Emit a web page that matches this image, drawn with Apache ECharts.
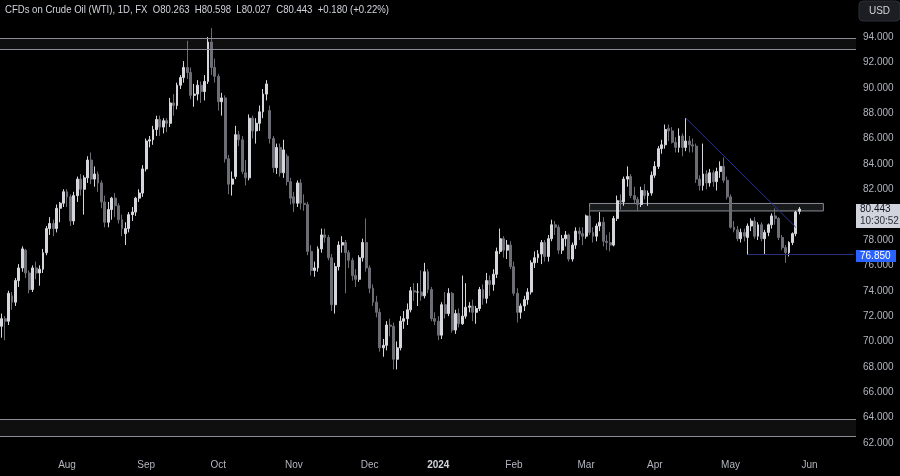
<!DOCTYPE html>
<html>
<head>
<meta charset="utf-8">
<title>CFDs on Crude Oil (WTI), 1D</title>
<script src="https://cdn.jsdelivr.net/npm/echarts/dist/echarts.min.js"></script>
<style>
  html, body { margin: 0; padding: 0; background: #000; }
  #chart { width: 900px; height: 476px; }
</style>
</head>
<body>
<div id="chart"></div>
<script>
// daily candles, one array per month: [open, high, low, close]
const jul23 = [
  [71.2, 72.2, 70.3, 71.8], [71.8, 72.0, 70.1, 71.6], [71.6, 74.0, 71.3, 73.8], [73.6, 73.9, 72.5, 73.1],
  [73.1, 75.0, 72.8, 74.8], [74.8, 76.1, 74.3, 75.8], [75.8, 77.5, 75.5, 77.3], [77.2, 77.3, 75.0, 75.4],
  [75.4, 75.6, 73.8, 74.1], [74.1, 76.0, 73.9, 75.8], [75.8, 76.3, 74.9, 75.4], [75.4, 76.0, 74.4, 75.7],
  [75.7, 77.3, 75.4, 77.0], [77.0, 79.1, 76.8, 78.9], [78.9, 79.8, 78.4, 79.3], [79.3, 79.6, 78.3, 78.9],
  [78.9, 80.8, 78.6, 80.5], [80.5, 81.0, 79.4, 80.9], [80.9, 82.0, 80.6, 81.8]
]
const aug23 = [
  [81.8, 82.0, 80.6, 81.4], [81.4, 81.6, 79.1, 79.5], [79.5, 81.8, 79.2, 81.5], [81.5, 83.0, 81.0, 82.8],
  [82.8, 83.2, 81.5, 82.0], [82.0, 83.1, 80.0, 82.9], [82.9, 84.6, 82.5, 84.3], [84.3, 84.9, 82.4, 82.8],
  [82.8, 83.8, 82.2, 83.2], [83.2, 83.4, 81.8, 82.5], [82.5, 82.7, 80.5, 81.0], [81.0, 81.5, 79.0, 79.4],
  [79.4, 81.0, 79.0, 80.4], [80.4, 81.4, 79.6, 81.3], [81.3, 81.7, 79.8, 80.7], [80.7, 80.9, 79.3, 79.6],
  [79.6, 80.0, 78.3, 78.9], [78.5, 79.4, 77.6, 78.9], [78.9, 80.2, 78.6, 80.0], [80.0, 80.6, 79.5, 80.2],
  [80.2, 81.4, 79.9, 81.3], [81.3, 82.0, 81.0, 81.7], [81.7, 83.9, 81.4, 83.6]
]
const sep23 = [
  [83.6, 86.0, 83.4, 85.8], [85.8, 86.2, 85.3, 85.9], [85.9, 87.0, 85.5, 86.7], [86.7, 87.8, 86.2, 87.5],
  [87.5, 87.8, 86.2, 86.9], [86.9, 87.6, 86.4, 87.4], [87.4, 87.6, 86.5, 87.2], [87.2, 89.2, 86.9, 88.8],
  [88.8, 89.5, 87.8, 88.6], [88.6, 90.4, 88.3, 90.2], [90.2, 91.0, 89.9, 90.8], [90.8, 92.1, 90.4, 91.6],
  [91.6, 93.7, 90.7, 91.2], [91.2, 91.6, 89.1, 89.4], [89.4, 90.3, 88.5, 89.5], [89.5, 90.6, 89.0, 90.2],
  [90.2, 90.5, 88.8, 89.7], [89.7, 91.0, 89.0, 90.5], [90.5, 94.0, 90.3, 93.6], [93.6, 94.7, 91.0, 91.6],
  [91.6, 92.3, 90.4, 90.9]
]
const oct23 = [
  [90.9, 91.1, 88.2, 88.9], [88.9, 89.6, 87.8, 89.2], [89.2, 89.4, 84.1, 84.4], [84.4, 84.7, 81.6, 82.4],
  [82.4, 83.4, 81.5, 82.8], [83.0, 87.0, 82.8, 86.3], [86.3, 86.6, 85.4, 85.9], [85.9, 86.2, 83.2, 83.4],
  [83.3, 84.3, 82.3, 82.9], [82.9, 87.9, 82.7, 87.6], [87.6, 87.8, 86.0, 86.6], [86.6, 87.6, 85.6, 87.2],
  [87.2, 88.6, 86.6, 88.1], [88.1, 89.9, 87.6, 89.5], [89.5, 90.6, 89.0, 90.3], [88.2, 88.6, 85.6, 86.0],
  [86.0, 86.2, 83.3, 83.7], [83.7, 85.6, 83.2, 85.3], [85.3, 85.6, 83.0, 83.3], [83.3, 85.9, 82.9, 85.1],
  [84.6, 84.8, 82.3, 82.6], [82.6, 82.9, 80.8, 81.3]
]
const nov23 = [
  [81.4, 81.8, 80.2, 80.9], [80.9, 82.7, 80.6, 82.5], [82.5, 82.8, 80.4, 80.9], [80.9, 81.6, 80.3, 80.8],
  [80.8, 81.0, 76.8, 77.1], [77.1, 77.6, 75.2, 75.6], [75.6, 76.3, 75.1, 75.8], [75.8, 77.5, 75.5, 77.3],
  [77.3, 78.9, 77.0, 78.4], [78.4, 78.9, 77.8, 78.2], [78.2, 78.4, 76.4, 76.6], [76.6, 76.9, 72.4, 72.9],
  [72.9, 76.2, 72.2, 75.9], [75.9, 77.9, 75.6, 77.6], [77.6, 78.3, 77.0, 77.8], [77.8, 78.0, 73.8, 77.0],
  [77.0, 77.2, 75.8, 76.4], [76.4, 76.6, 74.8, 75.2], [75.2, 75.7, 74.3, 74.9], [74.9, 76.8, 74.7, 76.6],
  [76.6, 78.1, 76.3, 77.8], [77.8, 79.7, 75.5, 75.8]
]
const dec23 = [
  [75.8, 76.0, 73.8, 74.2], [74.2, 74.5, 72.8, 73.1], [73.1, 73.6, 71.9, 72.3], [72.3, 72.6, 69.2, 69.5],
  [69.5, 70.2, 68.8, 69.7], [69.7, 71.6, 69.3, 71.3], [71.3, 71.8, 70.4, 71.2], [71.2, 71.5, 67.8, 68.6],
  [68.6, 70.0, 67.8, 69.5], [69.5, 72.0, 69.3, 71.6], [71.6, 72.4, 71.0, 71.8], [71.8, 73.0, 71.3, 72.5],
  [72.5, 74.3, 72.3, 74.0], [74.0, 74.6, 73.2, 73.9], [73.9, 74.6, 72.8, 73.9], [73.9, 75.6, 73.2, 73.6],
  [73.6, 76.2, 73.4, 75.5], [75.5, 75.7, 73.8, 74.1], [74.1, 74.3, 71.6, 71.8], [71.8, 72.3, 71.3, 71.6]
]
const jan24 = [
  [71.6, 72.0, 70.1, 70.5], [70.5, 73.1, 70.2, 72.9], [72.9, 73.9, 71.8, 72.2], [72.2, 74.2, 72.0, 73.8],
  [73.8, 73.9, 70.7, 70.9], [70.9, 72.5, 70.6, 72.2], [72.2, 72.6, 71.1, 71.4], [71.4, 75.2, 71.3, 72.0],
  [72.0, 74.6, 71.8, 72.7], [72.7, 73.1, 72.3, 72.8], [72.8, 73.3, 71.6, 72.3], [72.3, 72.8, 71.4, 72.6],
  [72.6, 74.3, 72.4, 74.1], [74.1, 74.5, 72.9, 73.4], [73.4, 75.4, 73.0, 74.8], [74.8, 75.2, 73.6, 74.5],
  [74.5, 75.7, 74.0, 75.3], [75.3, 77.4, 75.0, 77.1], [77.1, 78.9, 76.9, 78.1], [78.1, 78.3, 76.6, 77.2],
  [77.2, 78.0, 76.5, 77.6], [77.6, 77.9, 75.7, 75.9]
]
const feb24 = [
  [75.9, 76.3, 73.6, 73.8], [73.8, 74.2, 71.5, 72.3], [72.3, 73.0, 71.8, 72.8], [72.8, 73.6, 72.4, 73.3],
  [73.3, 74.2, 72.9, 73.9], [73.9, 76.4, 73.7, 76.2], [76.2, 77.1, 75.8, 76.6], [76.6, 77.2, 76.2, 76.9],
  [76.9, 78.0, 76.1, 77.8], [77.8, 78.0, 76.3, 76.7], [76.7, 78.4, 76.3, 78.1], [78.1, 79.6, 77.9, 79.2],
  [79.2, 79.5, 78.4, 79.0], [79.0, 79.2, 76.9, 77.2], [77.2, 78.4, 76.9, 78.1], [78.1, 78.7, 77.5, 78.4],
  [78.4, 78.5, 76.3, 76.5], [76.5, 77.8, 76.3, 77.6], [77.6, 79.0, 77.3, 78.7], [78.7, 79.0, 78.0, 78.5],
  [78.5, 79.0, 77.6, 78.3]
]
const mar24 = [
  [78.3, 80.0, 78.1, 79.9], [79.9, 80.6, 78.4, 78.6], [78.6, 79.0, 77.8, 78.3], [78.3, 79.3, 77.9, 79.1],
  [79.1, 80.2, 78.7, 79.4], [79.4, 79.8, 77.5, 77.9], [77.9, 78.4, 77.2, 77.8], [77.8, 78.6, 77.1, 77.6],
  [77.6, 79.9, 77.5, 79.7], [79.7, 81.5, 79.5, 81.1], [81.1, 81.6, 80.4, 81.0], [81.0, 83.0, 80.7, 82.8],
  [82.8, 83.8, 82.2, 83.0], [83.0, 83.2, 81.3, 81.5], [81.5, 82.2, 80.9, 81.2], [81.2, 81.4, 80.3, 80.8],
  [80.8, 82.2, 80.6, 81.9], [81.9, 82.4, 81.2, 81.5], [81.5, 81.9, 80.7, 81.7], [81.7, 83.4, 81.5, 83.1]
]
const apr24 = [
  [83.1, 84.2, 82.9, 83.8], [83.8, 85.4, 83.6, 85.2], [85.2, 85.9, 84.8, 85.5], [85.5, 87.1, 85.2, 86.7],
  [86.8, 87.1, 85.8, 86.6], [86.6, 86.9, 85.6, 85.7], [85.7, 86.1, 84.9, 85.3], [85.3, 86.8, 84.9, 86.2],
  [86.2, 86.4, 84.6, 85.3], [85.3, 87.6, 85.0, 85.8], [85.8, 86.2, 84.9, 85.5], [85.5, 86.0, 84.9, 85.4],
  [85.4, 85.6, 82.5, 82.8], [82.8, 83.1, 81.9, 82.3], [82.3, 85.6, 81.9, 83.2], [83.2, 83.5, 82.0, 82.5],
  [82.5, 83.6, 82.2, 83.3], [83.3, 83.5, 82.2, 82.6], [82.6, 83.7, 81.9, 83.4], [83.4, 84.2, 82.9, 83.8],
  [83.8, 84.5, 82.5, 82.7], [82.7, 83.0, 81.2, 81.4]
]
const may24 = [
  [81.4, 81.6, 78.9, 79.0], [79.0, 79.5, 78.6, 78.8], [78.8, 79.1, 77.9, 78.1], [78.1, 78.9, 77.8, 78.6],
  [78.6, 78.9, 77.9, 78.3], [78.2, 79.3, 76.85, 79.1], [79.1, 79.7, 78.7, 79.5], [79.5, 79.8, 78.1, 78.3],
  [78.3, 79.4, 78.0, 79.2], [79.2, 79.4, 77.9, 78.1], [78.1, 78.8, 76.9, 78.6], [78.6, 79.3, 78.3, 79.2],
  [79.2, 80.1, 78.9, 79.9], [79.9, 80.5, 79.2, 79.7], [79.7, 79.8, 78.0, 78.2], [78.2, 78.4, 77.2, 77.4],
  [77.4, 77.6, 76.2, 77.0], [77.0, 77.9, 76.7, 77.8], [77.8, 78.6, 77.6, 78.5], [78.5, 80.3, 78.3, 80.2],
  [80.263, 80.598, 80.027, 80.443]
]

// trading calendar (weekdays without the days the market was shut)
const firstDay = '2023-07-05'
const lastDay = '2024-06-20'
const holidays = ['2023-12-25', '2024-01-01', '2024-03-29']
const monthNames = ['Jan', 'Feb', 'Mar', 'Apr', 'May', 'Jun', 'Jul', 'Aug', 'Sep', 'Oct', 'Nov', 'Dec']

// drawn levels
const topZone = [93.0, 93.9]
const bottomZone = [62.55, 63.9]
const midZone = { from: '2024-03-04', to: '2024-06-07', low: 80.29, high: 80.88 }
const trendLine = [['2024-04-12', 87.6], ['2024-05-28', 79.0]]
const support = { from: '2024-05-08', to: '2024-06-20', value: 76.85 }
const lastPrice = 80.443
const countdown = '10:30:52'
const header = 'CFDs on Crude Oil (WTI), 1D, FX  O80.263  H80.598  L80.027  C80.443  +0.180 (+0.22%)'

const buildDays = () => {
  const out = []
  const d = new Date(firstDay + 'T00:00:00Z')
  const end = new Date(lastDay + 'T00:00:00Z')
  while (d <= end) {
    const s = d.toISOString().slice(0, 10)
    const wd = d.getUTCDay()
    if (wd !== 0 && wd !== 6 && !holidays.includes(s)) out.push(s)
    d.setUTCDate(d.getUTCDate() + 1)
  }
  return out
}

const days = buildDays()
const candles = [].concat(jul23, aug23, sep23, oct23, nov23, dec23, jan24, feb24, mar24, apr24, may24)
// echarts wants [open, close, low, high]
const seriesData = candles.map(c => [c[0], c[3], c[2], c[1]])

const isMonthStart = (i) => i > 0 && days[i].slice(5, 7) !== days[i - 1].slice(5, 7)

const edgeLine = { color: '#8a8d96', width: 1, type: 'solid' }

const chart = echarts.init(document.getElementById('chart'))

chart.setOption({
  backgroundColor: '#000000',
  animation: false,
  grid: { left: -1, right: 44, top: 11.625, bottom: 33 },
  xAxis: {
    type: 'category',
    data: days,
    axisLine: { show: false },
    axisTick: { show: false },
    splitLine: { show: false },
    axisLabel: {
      interval: (i) => isMonthStart(i),
      margin: 17,
      color: '#b2b5be',
      fontSize: 10,
      fontFamily: 'Liberation Sans',
      formatter: (v) => {
        const m = Number(v.slice(5, 7)) - 1
        return m === 0 ? '{y|' + v.slice(0, 4) + '}' : monthNames[m]
      },
      rich: { y: { fontWeight: 'bold', color: '#d1d4dc', fontSize: 10, fontFamily: 'Liberation Sans' } }
    }
  },
  yAxis: {
    type: 'value',
    position: 'right',
    min: 62,
    max: 96,
    interval: 2,
    axisLine: { show: false },
    axisTick: { show: false },
    splitLine: { show: false },
    axisLabel: {
      margin: 7,
      color: '#b2b5be',
      fontSize: 10,
      fontFamily: 'Liberation Sans',
      formatter: (v) => v >= 96 ? '' : v.toFixed(3)
    }
  },
  series: [{
    type: 'candlestick',
    data: seriesData,
    barWidth: '70%',
    itemStyle: {
      color: '#d6d7dd',
      color0: '#6c6d75',
      borderColor: '#d6d7dd',
      borderColor0: '#6c6d75',
      borderWidth: 1
    },
    markArea: {
      silent: true,
      data: [
        [{ yAxis: topZone[0], itemStyle: { color: 'rgba(120, 123, 134, 0.12)' } }, { yAxis: topZone[1] }],
        [{ yAxis: bottomZone[0], itemStyle: { color: 'rgba(120, 123, 134, 0.12)' } }, { yAxis: bottomZone[1] }],
        [
          {
            coord: [midZone.from, midZone.high],
            itemStyle: { color: 'rgba(120, 123, 134, 0.2)', borderColor: '#8a8d96', borderWidth: 1 }
          },
          { coord: [midZone.to, midZone.low] }
        ]
      ]
    },
    markLine: {
      silent: true,
      symbol: ['none', 'none'],
      label: { show: false },
      data: [
        { yAxis: topZone[0], lineStyle: edgeLine },
        { yAxis: topZone[1], lineStyle: edgeLine },
        { yAxis: bottomZone[0], lineStyle: edgeLine },
        { yAxis: bottomZone[1], lineStyle: edgeLine },
        [
          { coord: trendLine[0], lineStyle: { color: '#2b3494', width: 1, type: 'solid' } },
          { coord: trendLine[1] }
        ],
        [
          { coord: [support.from, support.value], lineStyle: { color: '#26317f', width: 1, type: 'solid' } },
          { coord: [support.to, support.value] }
        ]
      ]
    }
  }]
})

// price tags on the right axis and the header
const axisX = chart.getWidth() - 44
const yLast = chart.convertToPixel({ yAxisIndex: 0 }, lastPrice)
const ySup = chart.convertToPixel({ yAxisIndex: 0 }, support.value)

chart.setOption({
  graphic: [
    {
      type: 'text', x: 5, y: 4, z: 100, scaleX: 0.87,
      style: { text: header, fill: '#d1d4dc', font: '11px "Liberation Sans"' }
    },
    {
      type: 'rect', z: 100,
      shape: { x: axisX + 3, y: 1, width: 41, height: 20, r: 4 },
      style: { fill: '#1c1e24', stroke: '#2c2f36', lineWidth: 1 }
    },
    {
      type: 'text', z: 101, x: axisX + 23.5, y: 11,
      style: { text: 'USD', fill: '#d1d4dc', font: '10px "Liberation Sans"', align: 'center', verticalAlign: 'middle' }
    },
    {
      type: 'rect', z: 100,
      shape: { x: axisX, y: yLast - 5, width: 44, height: 24 },
      style: { fill: '#d1d4dc' }
    },
    {
      type: 'text', z: 101, x: axisX + 4, y: yLast + 0.5,
      style: { text: lastPrice.toFixed(3), fill: '#131722', font: '10px "Liberation Sans"', verticalAlign: 'middle' }
    },
    {
      type: 'text', z: 101, x: axisX + 4, y: yLast + 12.5,
      style: { text: countdown, fill: '#2a2e39', font: '10px "Liberation Sans"', verticalAlign: 'middle' }
    },
    {
      type: 'rect', z: 100,
      shape: { x: axisX, y: ySup - 4.5, width: 40, height: 12 },
      style: { fill: '#2962ff' }
    },
    {
      type: 'text', z: 101, x: axisX + 4, y: ySup + 1.5,
      style: { text: support.value.toFixed(3), fill: '#ffffff', font: '10px "Liberation Sans"', verticalAlign: 'middle' }
    }
  ]
})
</script>
</body>
</html>
